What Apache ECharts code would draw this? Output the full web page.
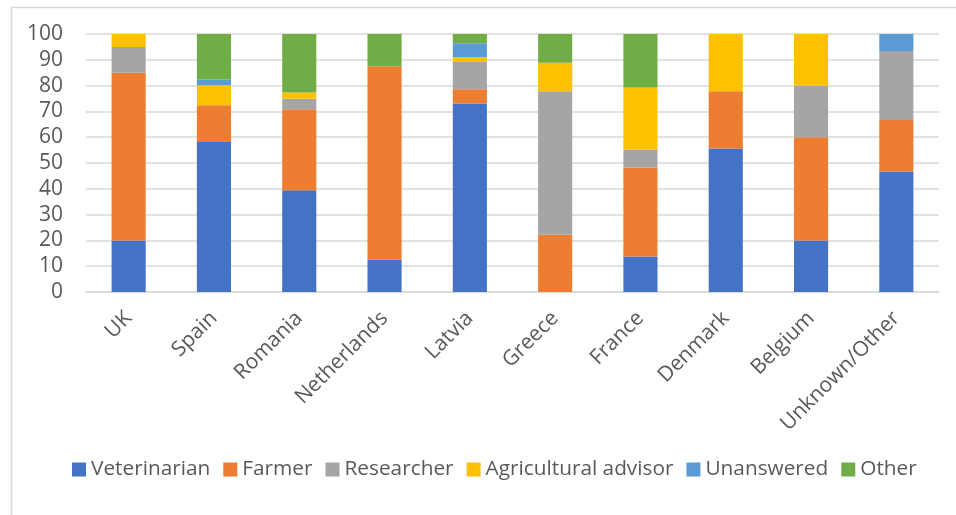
<!DOCTYPE html>
<html>
<head>
<meta charset="utf-8">
<script src="https://cdn.jsdelivr.net/npm/echarts@6/dist/echarts.min.js"></script>
<style>html,body{margin:0;padding:0;background:#fff}#c{width:956px;height:515px}</style>
</head>
<body>
<div id="c"></div>
<script>
const categories = ['UK','Spain','Romania','Netherlands','Latvia','Greece','France','Denmark','Belgium','Unknown/Other'];
const veterinarian = [20, 58.1, 39.4, 12.5, 73.1, 0, 13.8, 55.6, 20, 46.7];
const farmer       = [65, 14.3, 31.4, 75, 5.5, 22.2, 34.5, 22.2, 40, 20];
const researcher   = [10, 0, 4.1, 0, 10.5, 55.6, 6.9, 0, 20, 26.7];
const advisor      = [5, 7.7, 2.4, 0, 1.9, 11.1, 24.1, 22.2, 20, 0];
const unanswered   = [0, 2.3, 0, 0, 5.4, 0, 0, 0, 0, 6.6];
const other        = [0, 17.6, 22.7, 12.5, 3.6, 11.1, 20.7, 0, 0, 0];
const yTicks = { min: 0, max: 100, interval: 10 };

const seriesDefs = [
  ['Veterinarian', veterinarian, '#4472C4'],
  ['Farmer', farmer, '#ED7D31'],
  ['Researcher', researcher, '#A5A5A5'],
  ['Agricultural advisor', advisor, '#FFC000'],
  ['Unanswered', unanswered, '#5B9BD5'],
  ['Other', other, '#70AD47']
];

const font = '"Open Sans", sans-serif';
const chart = echarts.init(document.getElementById('c'), null, {renderer: 'canvas'});
chart.setOption({
  animation: false,
  color: seriesDefs.map(s => s[2]),
  graphic: [{
    type: 'rect', left: 9, top: 5,
    shape: { x: 0, y: 0, width: 1000, height: 1000 },
    style: { fill: 'none', stroke: '#d9d9d9', lineWidth: 1.5 },
    silent: true, z: -10
  }],
  grid: { left: 86, right: 17, top: 34, bottom: 223, containLabel: false },
  legend: {
    left: 72, top: 459, padding: 0,
    itemWidth: 14, itemHeight: 14, itemGap: 13,
    icon: 'rect',
    textStyle: { fontFamily: font, fontSize: 20.8, color: '#595959' },
    data: seriesDefs.map(s => s[0])
  },
  xAxis: {
    type: 'category',
    data: categories,
    axisTick: { show: false },
    axisLine: { lineStyle: { color: '#d9d9d9', width: 1.5 } },
    axisLabel: { rotate: 45, margin: 23, fontFamily: font, fontSize: 21, color: '#595959', interval: 0 }
  },
  yAxis: {
    type: 'value',
    min: yTicks.min, max: yTicks.max, interval: yTicks.interval,
    axisLine: { show: false },
    axisTick: { show: false },
    splitLine: { lineStyle: { color: '#d9d9d9', width: 1.5 } },
    axisLabel: { margin: 23, fontFamily: font, fontSize: 21, color: '#595959' }
  },
  series: seriesDefs.map(s => ({
    name: s[0], type: 'bar', stack: 'total', data: s[1],
    barWidth: '40%',
    itemStyle: { color: s[2] }
  }))
});
</script>
</body>
</html>
